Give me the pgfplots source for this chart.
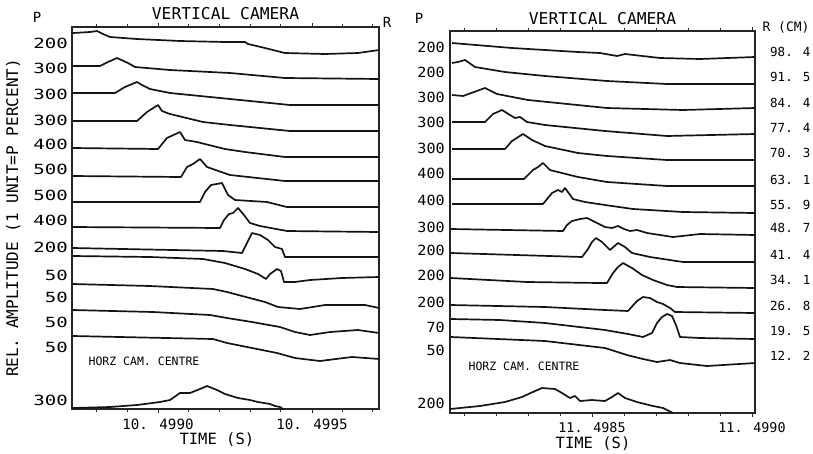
\documentclass[border=0pt]{standalone}
\usepackage{fontspec}
\setmainfont{DejaVu Sans Mono}
\newfontfamily\plotwide[FakeStretch=1.36]{DejaVu Sans Mono}
\newfontfamily\plotnarrow[FakeStretch=1.08]{DejaVu Sans Mono}
\usepackage{pgfplots}
\pgfplotsset{compat=1.18}

% x and y are the positions on the original plotter sheet (y downwards)
\pgfplotsset{
  trace/.style={line width=1.7pt, black!92, line join=round},
  camera/.style={
    scale only axis, clip=false, y dir=reverse,
    axis line style={line width=1.3pt, black!85},
    tick align=outside, major tick length=4pt, minor tick length=3pt,
    tick style={line width=0.9pt, black!85},
    ytick=\empty,
    extra y tick style={major tick length=0pt},
    every axis title/.style={at={(axis description cs:0.5,1)}, anchor=base,
      font=\fontsize{16.3}{16.3}\selectfont},
    every axis x label/.style={anchor=base,
      font=\fontsize{15.5}{15.5}\selectfont},
  },
}

\begin{document}
\begin{tikzpicture}
\useasboundingbox (0pt,0pt) rectangle (813pt,453pt);

% ---------------- left panel ----------------
\begin{axis}[camera, at={(72pt,44pt)}, anchor=south west,
    width=307pt, height=382pt,
    xmin=72, xmax=379, ymin=27, ymax=409,
    xtick={158,312}, xticklabels={10. 4990,10. 4995},
    minor xtick={96.6,127.3,188.7,219.4,250.1,280.8,342.2,372.9},
    xticklabel style={anchor=base, yshift=-16pt,
      font=\fontsize{14.2}{14.2}\selectfont},
    minor ytick={50.5,76.2,101.9,127.6,153.3,179,204.7,230.4,256.1,281.8,307.5,333.2,358.9,384.6},
    extra y ticks={43,68,94,120,144,169,195,220,247,275,297,322,347,400},
    extra y tick labels={200,300,300,300,400,500,500,400,200,50,50,50,50,300},
    yticklabel style={anchor=east, inner xsep=0pt, xshift=-4pt,
      font=\fontsize{14}{14}\plotwide},
    title={VERTICAL CAMERA},
    title style={yshift=8pt},
    xlabel={TIME (S)},
    xlabel style={at={(axis description cs:0.472,0)}, yshift=-35pt},
    ylabel={REL. AMPLITUDE (1 UNIT=P PERCENT)},
    every axis y label/.style={at={(axis description cs:-0.192,0.5)},
      rotate=90, anchor=center, font=\fontsize{16}{16}\selectfont},
  ]
  \addplot[trace] coordinates {(73,33) (90,32) (97,31) (103,34) (110,37) (137,39) (180,41) (225,42) (245,42) (248,44) (265,48) (285,53) (325,54) (358,53) (379,50)};
  \addplot[trace] coordinates {(73,66) (100,66) (108,62) (117,58) (128,63) (135,67) (170,70) (230,73) (285,78) (379,79)};
  \addplot[trace] coordinates {(73,93) (115,93) (125,87) (137,82) (142,85) (150,89) (170,93) (230,99) (290,105) (379,105)};
  \addplot[trace] coordinates {(73,121) (137,121) (147,112) (158,105) (162,111) (170,114) (203,122) (230,125) (290,131) (379,131)};
  \addplot[trace] coordinates {(73,148) (158,149) (167,138) (180,132) (185,140) (197,142) (225,149) (245,152) (285,157) (379,157)};
  \addplot[trace] coordinates {(73,176) (181,177) (187,167) (193,164) (200,159) (207,167) (230,175) (285,181) (379,181)};
  \addplot[trace] coordinates {(73,202) (200,202) (205,192) (211,185) (222,183) (228,195) (235,200) (267,202) (287,207) (379,207)};
  \addplot[trace] coordinates {(73,227) (220,228) (224,220) (229,214) (233,213) (238,208) (244,215) (250,223) (260,226) (287,231) (379,232)};
  \addplot[trace] coordinates {(73,248) (223,251) (242,253) (247,243) (252,233) (260,235) (268,240) (275,247) (282,249) (285,257) (320,257) (379,257)};
  \addplot[trace] coordinates {(73,256) (150,257) (203,259) (225,263) (245,269) (258,274) (266,279) (270,274) (277,269) (281,271) (284,282) (295,282) (310,280) (342,278) (379,277)};
  \addplot[trace] coordinates {(73,284) (150,286) (213,289) (227,292) (265,302) (278,307) (300,309) (325,305) (365,305) (379,308)};
  \addplot[trace] coordinates {(73,310) (153,312) (210,315) (227,318) (252,322) (280,327) (295,332) (310,335) (330,332) (358,330) (379,333)};
  \addplot[trace] coordinates {(73,336) (213,339) (227,343) (252,348) (277,353) (295,358) (320,361) (352,357) (379,359)};
  \addplot[trace] coordinates {(73,408) (110,407) (137,405) (160,402) (170,400) (180,393) (190,393) (200,389) (207,386) (217,390) (225,394) (238,398) (250,400) (258,402) (270,404) (275,406) (280,407) (283,409)};

  \node[font=\fontsize{14}{14}\selectfont] at (axis cs:37,17) {P};
  \node[font=\fontsize{14}{14}\selectfont] at (axis cs:387,22) {R};
  \node[font=\fontsize{11.5}{11.5}\selectfont] at (axis cs:144,361) {HORZ CAM. CENTRE};
\end{axis}

% ---------------- right panel ----------------
\begin{axis}[camera, at={(450pt,40pt)}, anchor=south west,
    width=305pt, height=382pt,
    xmin=450, xmax=755, ymin=31, ymax=413,
    xtick={592,752}, xticklabels={11. 4985,11. 4990},
    minor xtick={464,496,528,560,624,656,688,720},
    xticklabel style={anchor=base, yshift=-15pt,
      font=\fontsize{13.4}{13.4}\selectfont},
    minor ytick={57,82.4,107.8,133.2,158.6,184,209.4,234.8,260.2,285.6,311,336.4,361.8,387.2},
    extra y ticks={47,72,97,122,148,173,200,227,250,275,302,327,350,403},
    extra y tick labels={200,200,300,300,300,400,400,300,200,200,200,70,50,200},
    yticklabel style={anchor=east, inner xsep=0pt, xshift=-5pt,
      font=\fontsize{14}{14}\plotnarrow},
    title={VERTICAL CAMERA},
    title style={yshift=7pt},
    xlabel={TIME (S)},
    xlabel style={at={(axis description cs:0.469,0)}, yshift=-35pt},
  ]
  \addplot[trace] coordinates {(452,43) (512,48) (578,52) (600,53) (617,56) (625,54) (660,58) (700,59) (755,57)};
  \addplot[trace] coordinates {(452,63) (458,62) (465,60) (475,67) (505,72) (545,76) (607,81) (667,84) (755,84)};
  \addplot[trace] coordinates {(452,95) (463,96) (474,92) (485,88) (497,94) (528,100) (607,108) (683,110) (755,108)};
  \addplot[trace] coordinates {(452,122) (485,122) (493,114) (502,110) (510,115) (515,118) (520,117) (527,122) (545,125) (605,131) (667,136) (755,134)};
  \addplot[trace] coordinates {(452,149) (505,149) (512,141) (523,134) (532,140) (545,146) (578,153) (607,156) (667,160) (755,160)};
  \addplot[trace] coordinates {(452,179) (524,179) (533,170) (538,167) (543,163) (550,170) (578,177) (607,182) (667,186) (755,186)};
  \addplot[trace] coordinates {(452,204) (543,204) (552,193) (558,190) (562,192) (565,188) (573,199) (585,202) (605,205) (633,209) (683,212) (755,213)};
  \addplot[trace] coordinates {(451,229) (563,231) (567,225) (572,221) (580,219) (587,218) (595,222) (605,227) (612,228) (618,226) (624,229) (630,231) (637,230) (647,233) (673,237) (700,234) (755,235)};
  \addplot[trace] coordinates {(451,253) (582,257) (588,249) (592,242) (596,238) (602,242) (610,250) (618,243) (625,247) (632,253) (650,257) (683,262) (700,262) (755,262)};
  \addplot[trace] coordinates {(451,278) (527,282) (600,283) (607,283) (613,273) (618,267) (623,263) (632,268) (642,275) (653,280) (667,285) (677,287) (755,288)};
  \addplot[trace] coordinates {(451,305) (545,307) (605,310) (628,311) (637,301) (643,297) (650,298) (657,302) (663,304) (670,308) (675,312) (755,313)};
  \addplot[trace] coordinates {(451,319) (500,320) (545,323) (605,330) (628,334) (643,337) (652,333) (657,323) (662,317) (667,314) (672,316) (676,325) (680,337) (700,338) (755,339)};
  \addplot[trace] coordinates {(451,337) (545,341) (605,348) (627,355) (643,359) (657,362) (670,360) (680,363) (707,366) (755,363)};
  \addplot[trace] coordinates {(450,409) (480,406) (505,402) (522,397) (535,391) (542,388) (555,389) (562,393) (570,398) (575,396) (580,401) (592,400) (605,401) (612,397) (618,393) (625,398) (637,402) (653,406) (663,408) (673,413)};

  \node[font=\fontsize{14}{14}\selectfont] at (axis cs:419,18) {P};
  \node[font=\fontsize{13}{13}\selectfont] at (axis cs:786,27) {R (CM)};
  \node[font=\fontsize{11.5}{11.5}\selectfont] at (axis cs:524,366) {HORZ CAM. CENTRE};
  \begin{scope}[every node/.style={anchor=west, inner sep=0pt,
      font=\fontsize{12.5}{12.5}\selectfont}]
    \node at (axis cs:770,52) {98. 4};
    \node at (axis cs:770,77) {91. 5};
    \node at (axis cs:770,103) {84. 4};
    \node at (axis cs:770,128) {77. 4};
    \node at (axis cs:770,153) {70. 3};
    \node at (axis cs:770,180) {63. 1};
    \node at (axis cs:770,205) {55. 9};
    \node at (axis cs:770,228) {48. 7};
    \node at (axis cs:770,255) {41. 4};
    \node at (axis cs:770,280) {34. 1};
    \node at (axis cs:770,306) {26. 8};
    \node at (axis cs:770,331) {19. 5};
    \node at (axis cs:770,356) {12. 2};
  \end{scope}
\end{axis}
\end{tikzpicture}
\end{document}
